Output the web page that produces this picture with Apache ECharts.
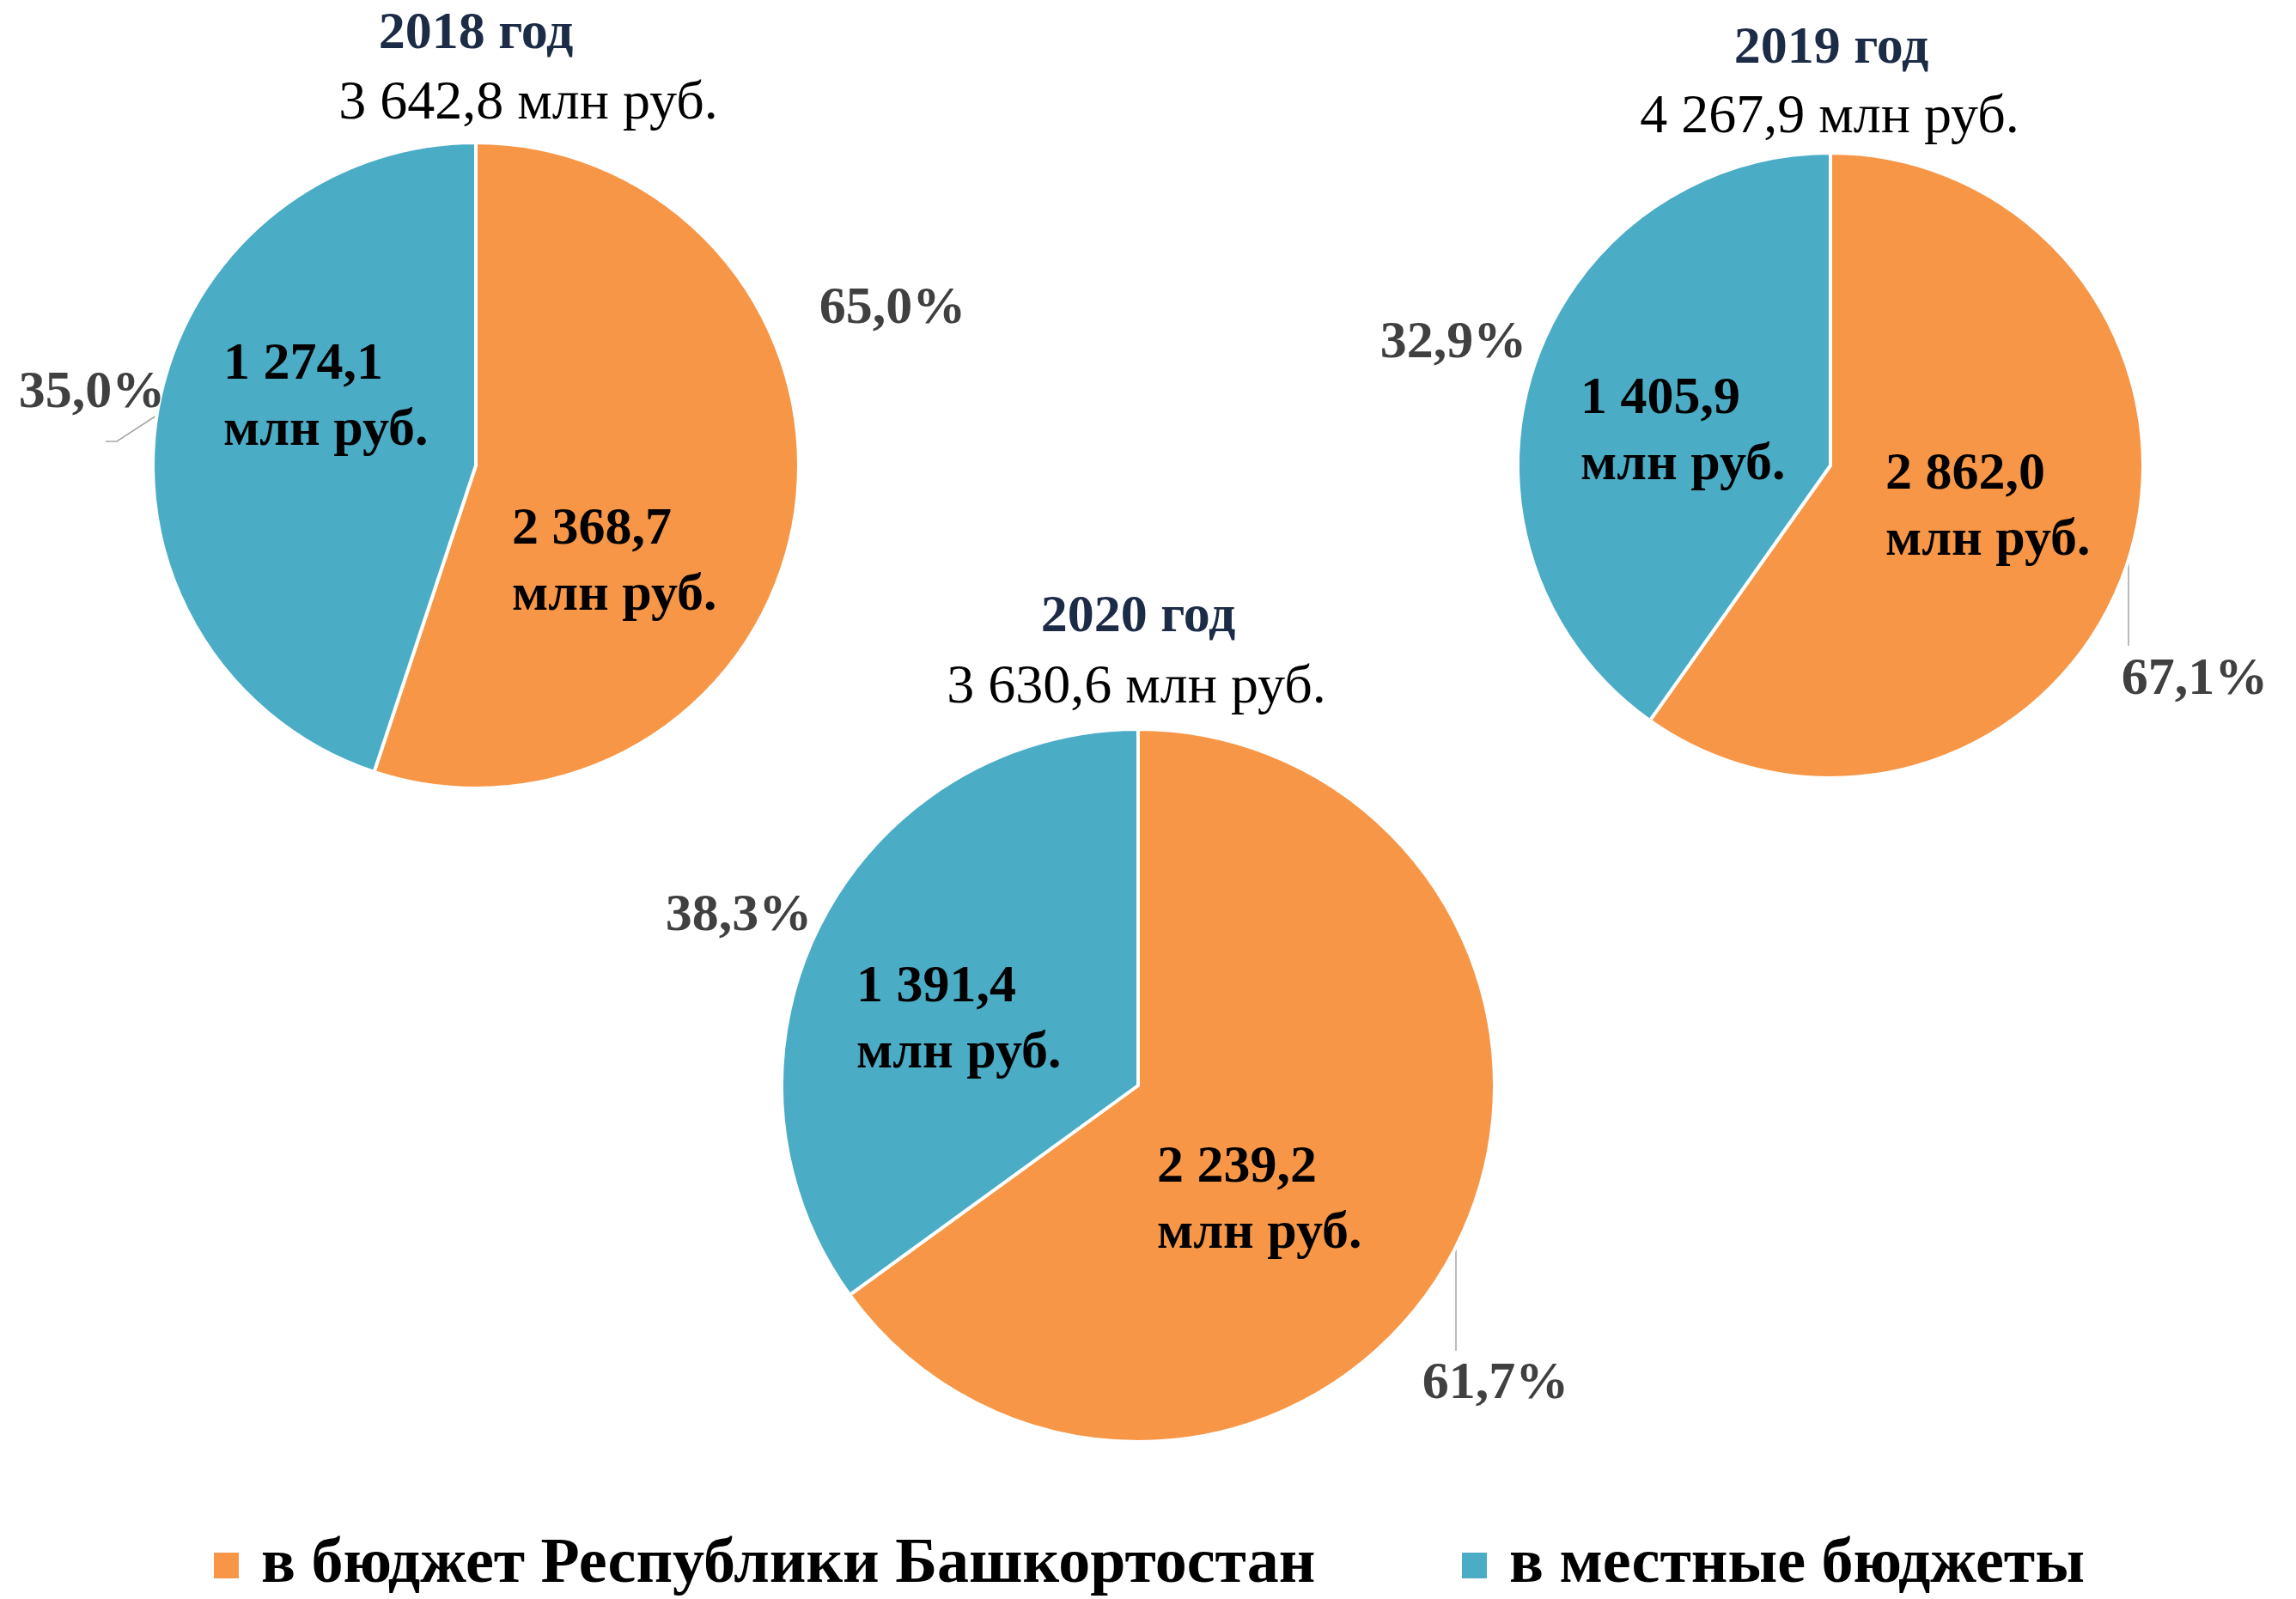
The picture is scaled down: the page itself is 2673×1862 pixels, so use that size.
<!DOCTYPE html>
<html>
<head>
<meta charset="utf-8">
<script src="https://cdn.jsdelivr.net/npm/echarts@6/dist/echarts.min.js"></script>
<style>
html,body{margin:0;padding:0;background:#ffffff;}
#chart{width:2673px;height:1862px;}
</style>
</head>
<body>
<div id="chart"></div>
<script>
// ---------- DATA ----------
const years = ['2018 год', '2019 год', '2020 год'];
const totals = [3642.8, 4267.9, 3630.6];               // млн руб.
const categories = ['в бюджет Республики Башкортостан', 'в местные бюджеты'];
const valuesRB = [2368.7, 2862.0, 2239.2];              // label values, млн руб.
const valuesLocal = [1274.1, 1405.9, 1391.4];
const pctRB = [65.0, 67.1, 61.7];                       // label percentages
const pctLocal = [35.0, 32.9, 38.3];
// slice shares as they are drawn in the reference picture (measured angles)
const drawnShareRB = [55.1, 59.8, 65.0];
const drawnShareLocal = [44.9, 40.2, 35.0];

// ---------- LAYOUT / STYLE ----------
const FONT = '"Liberation Serif", "Times New Roman", serif';
const COLORS = ['#F79646', '#4BACC6'];
const layout = [
  { center: [554, 542], radius: 376, title: [554, 40], total: [615, 121],
    inside: [[596, 617], [260, 425]], pct: [[1039, 360], [107, 458]],
    leader: [null, [[182, 484], [136, 514], [123, 514]]] },
  { center: [2131, 542], radius: 364, title: [2132, 57], total: [2130, 137],
    inside: [[2195, 553], [1840, 465]], pct: [[2555, 792], [1692, 400]],
    leader: [[[2478, 653], [2478, 752]], null] },
  { center: [1325, 1264], radius: 415, title: [1325, 719], total: [1323, 801],
    inside: [[1347, 1360], [997, 1150]], pct: [[1741, 1612], [860, 1067]],
    leader: [[[1695, 1454], [1695, 1573]], null] }
];
const LINE_H = 77;

function fmt(v, d) {
  const s = v.toFixed(d);
  const parts = s.split('.');
  return parts[0].replace(/\B(?=(\d{3})+(?!\d))/g, ' ') + (parts[1] ? ',' + parts[1] : '');
}

const chart = echarts.init(document.getElementById('chart'), null, { renderer: 'canvas' });

const titles = [];
years.forEach((y, i) => {
  titles.push({
    text: y, left: layout[i].title[0], top: layout[i].title[1],
    textAlign: 'center', textVerticalAlign: 'middle', padding: 0,
    textStyle: { fontFamily: FONT, fontSize: 62, fontWeight: 'bold', color: '#1C2B46', lineHeight: 70 }
  });
  titles.push({
    text: fmt(totals[i], 1) + ' млн руб.', left: layout[i].total[0], top: layout[i].total[1],
    textAlign: 'center', textVerticalAlign: 'middle', padding: 0,
    textStyle: { fontFamily: FONT, fontSize: 64, fontWeight: 'normal', color: '#000000', lineHeight: 72 }
  });
});

const mainSeries = years.map((y, i) => ({
  type: 'pie',
  name: y,
  center: layout[i].center,
  radius: layout[i].radius,
  startAngle: 90,
  clockwise: true,
  avoidLabelOverlap: false,
  silent: true,
  emphasis: { disabled: true },
  itemStyle: { borderColor: '#ffffff', borderWidth: 4 },
  label: {
    show: true, position: 'inside',
    formatter: p => fmt((p.dataIndex === 0 ? valuesRB : valuesLocal)[i], 1) + '\nмлн руб.',
    fontFamily: FONT, fontSize: 62, fontWeight: 'bold', color: '#000000', lineHeight: LINE_H
  },
  labelLine: { show: false },
  labelLayout: p => ({
    x: layout[i].inside[p.dataIndex][0],
    y: layout[i].inside[p.dataIndex][1] + LINE_H / 2,
    align: 'left', verticalAlign: 'middle'
  }),
  data: [
    { name: categories[0], value: drawnShareRB[i], itemStyle: { color: COLORS[0] } },
    { name: categories[1], value: drawnShareLocal[i], itemStyle: { color: COLORS[1] } }
  ]
}));

const pctSeries = years.map((y, i) => ({
  type: 'pie',
  name: y + ' %',
  center: layout[i].center,
  radius: layout[i].radius,
  startAngle: 90,
  clockwise: true,
  avoidLabelOverlap: false,
  silent: true,
  emphasis: { disabled: true },
  itemStyle: { color: 'rgba(0,0,0,0)', borderWidth: 0 },
  label: {
    show: true, position: 'outside',
    formatter: p => fmt((p.dataIndex === 0 ? pctRB : pctLocal)[i], 1) + '%',
    fontFamily: FONT, fontSize: 62, fontWeight: 'bold', color: '#404040', lineHeight: 70
  },
  labelLine: { show: true, lineStyle: { color: '#A6A6A6', width: 1.5 } },
  labelLayout: p => {
    const pt = layout[i].pct[p.dataIndex];
    const ln = layout[i].leader[p.dataIndex];
    const o = { x: pt[0], y: pt[1], align: 'center', verticalAlign: 'middle' };
    if (ln) o.labelLinePoints = ln;
    return o;
  },
  data: [
    { name: categories[0], value: drawnShareRB[i], labelLine: { show: !!layout[i].leader[0] } },
    { name: categories[1], value: drawnShareLocal[i], labelLine: { show: !!layout[i].leader[1] } }
  ]
}));

const legendCommon = {
  top: 1783, icon: 'rect', itemWidth: 31, itemHeight: 32, padding: 0,
  selectedMode: false,
  textStyle: { fontFamily: FONT, fontSize: 74, fontWeight: 'bold', color: '#000000', lineHeight: 80, padding: [0, 0, 0, 20] }
};

chart.setOption({
  animation: false,
  backgroundColor: '#ffffff',
  title: titles,
  legend: [
    Object.assign({}, legendCommon, { left: 247, data: [{ name: categories[0], itemStyle: { color: COLORS[0] } }] }),
    Object.assign({}, legendCommon, { left: 1700, data: [{ name: categories[1], itemStyle: { color: COLORS[1] } }] })
  ],
  series: mainSeries.concat(pctSeries)
});
</script>
</body>
</html>
